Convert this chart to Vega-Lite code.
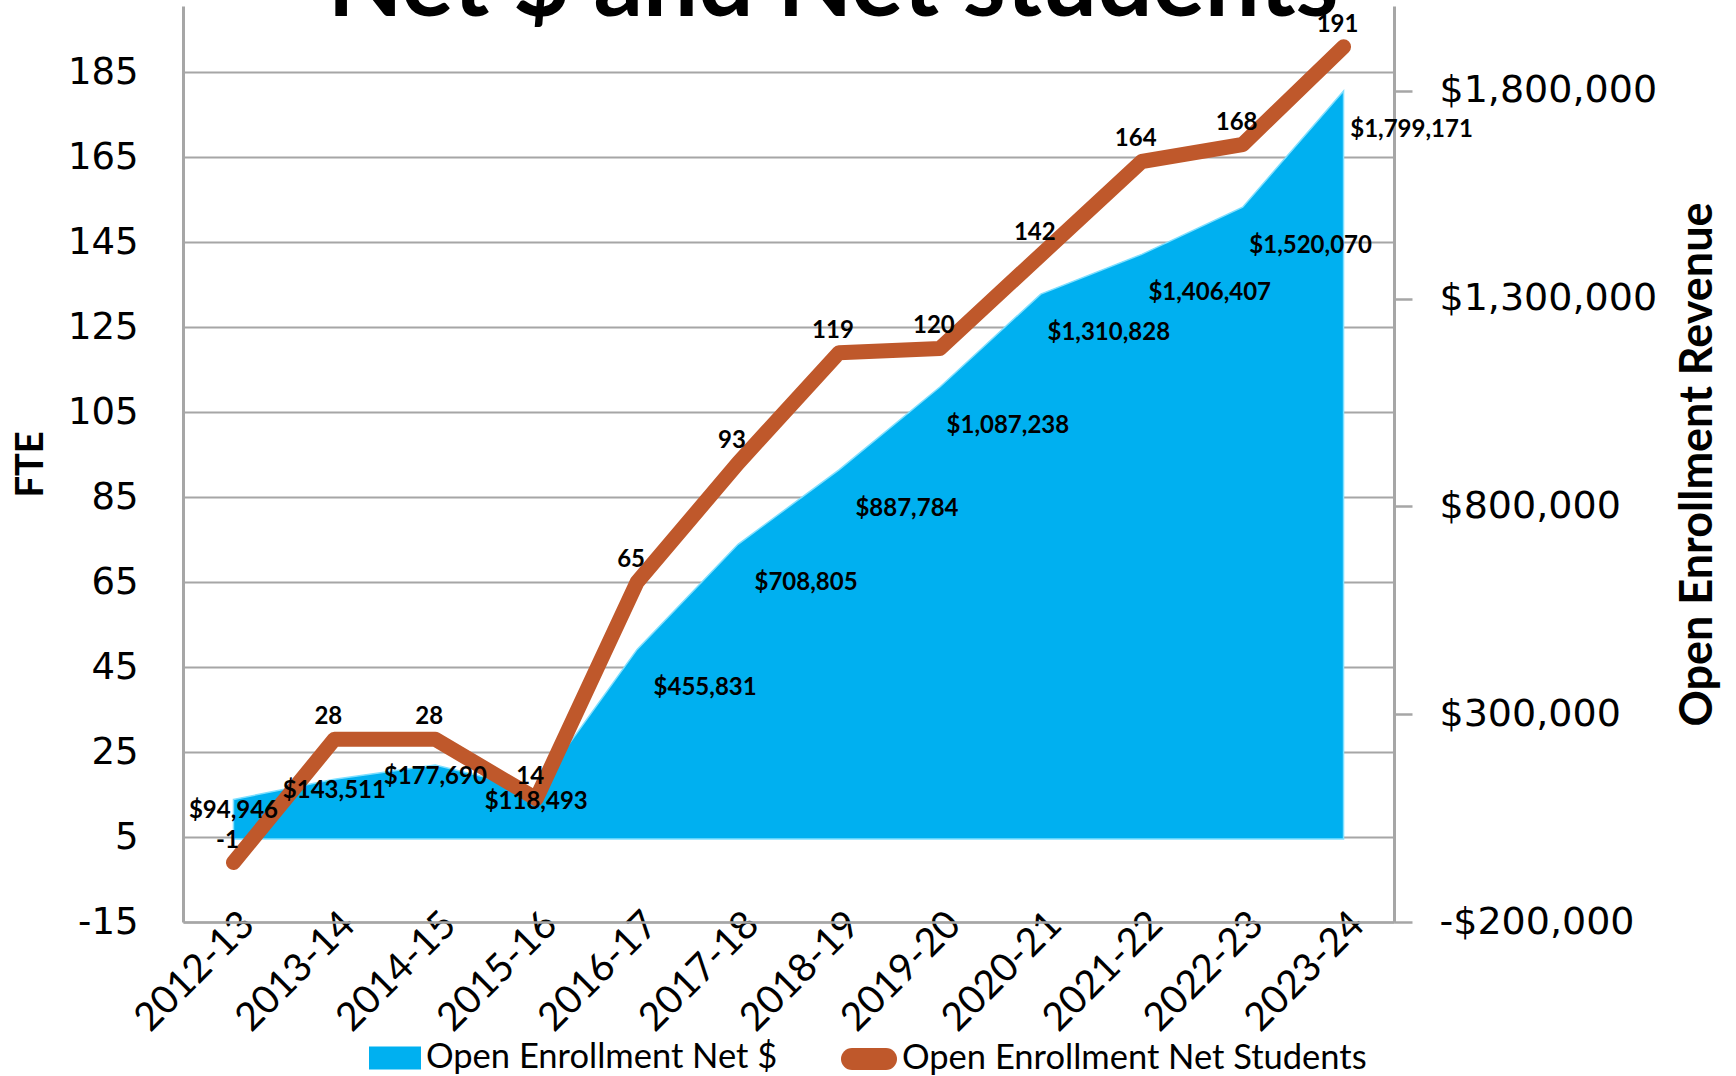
{
  "$schema": "https://vega.github.io/schema/vega-lite/v6.json",
  "width": 1211,
  "height": 916,
  "autosize": {"type": "none"},
  "padding": {"left": 183, "top": 6, "right": 342, "bottom": 154},
  "background": "white",
  "title": {"text": "Net $ and Net students", "font": "Lato", "fontSize": 97.7, "fontWeight": "bold", "color": "black", "anchor": "middle", "frame": "group", "baseline": "alphabetic", "offset": 0, "dy": 108, "dx": 44.5},
  "config": {"view": {"stroke": null}},
  "data": {"values": [
    {"year": "2012-13", "net_dollars": 94946, "students": -1},
    {"year": "2013-14", "net_dollars": 143511, "students": 28},
    {"year": "2014-15", "net_dollars": 177690, "students": 28},
    {"year": "2015-16", "net_dollars": 118493, "students": 14},
    {"year": "2016-17", "net_dollars": 455831, "students": 65},
    {"year": "2017-18", "net_dollars": 708805, "students": 93},
    {"year": "2018-19", "net_dollars": 887784, "students": 119},
    {"year": "2019-20", "net_dollars": 1087238, "students": 120},
    {"year": "2020-21", "net_dollars": 1310828, "students": 142},
    {"year": "2021-22", "net_dollars": 1406407, "students": 164},
    {"year": "2022-23", "net_dollars": 1520070, "students": 168},
    {"year": "2023-24", "net_dollars": 1799171, "students": 191}
  ]},
  "encoding": {
    "x": {"field": "year", "type": "ordinal", "sort": null, "scale": {"type": "point", "padding": 0.5},
      "axis": {"title": null, "labelAngle": -45, "labelAlign": "right", "labelBaseline": "middle", "labelFont": "Lato", "labelFontSize": 39, "labelColor": "black", "labelPadding": -4, "labelOffset": 14, "ticks": false, "domainColor": "#A6A6A6", "domainWidth": 2.5, "grid": false, "labelOverlap": false}}
  },
  "layer": [
    {
      "mark": {"type": "rule", "color": "#A6A6A6", "strokeWidth": 2},
      "encoding": {"y": {"datum": 0, "type": "quantitative", "scale": {"domain": [-15, 200.6], "nice": false, "zero": false}, "axis": null}}
    },
    {
      "mark": {"type": "area", "stroke": "#7FDFFF", "strokeWidth": 1.5},
      "encoding": {
        "y": {"field": "net_dollars", "type": "quantitative", "scale": {"domain": [-200000, 2004000], "nice": false, "zero": false},
          "axis": {"orient": "right", "title": "Open Enrollment Revenue", "titleFont": "Lato", "titleFontSize": 45, "titleFontWeight": "bold", "titleColor": "black", "titleAngle": 270, "titleX": 303, "titleY": 458, "titleAlign": "center", "titleBaseline": "middle",
            "values": [-200000, 300000, 800000, 1300000, 1800000], "format": "$,.0f", "labelExpr": "replace(datum.label, '−', '-')",
            "labelFont": "DejaVu Sans", "labelFontSize": 38, "labelColor": "black", "labelPadding": 27, "labelFlush": false, "labelOverlap": false, "labelLimit": 600,
            "tickSize": 18, "tickColor": "#A6A6A6", "tickWidth": 2.5, "domainColor": "#A6A6A6", "domainWidth": 3, "grid": false}},
        "y2": {"datum": 0},
        "fill": {"datum": "Open Enrollment Net $", "type": "nominal", "scale": {"range": ["#00B0F0"]},
          "legend": {"orient": "none", "legendX": 186, "legendY": 1026, "title": null, "padding": 0, "symbolType": "M-1,-0.44H1V0.44H-1Z", "symbolSize": 2704, "symbolStrokeWidth": 0, "labelFont": "Lato", "labelFontSize": 34.5, "labelColor": "black", "labelOffset": 5, "labelLimit": 800}}
      }
    },
    {
      "mark": {"type": "line", "strokeWidth": 15, "strokeCap": "round", "strokeJoin": "round"},
      "encoding": {
        "y": {"field": "students", "type": "quantitative", "scale": {"domain": [-15, 200.6], "nice": false, "zero": false},
          "axis": {"orient": "left", "title": "FTE", "titleFont": "Lato", "titleFontSize": 38, "titleFontWeight": "bold", "titleColor": "black", "titleAngle": 270, "titleX": -152, "titleY": 458, "titleAlign": "center", "titleBaseline": "middle",
            "values": [-15, 5, 25, 45, 65, 85, 105, 125, 145, 165, 185], "labelExpr": "replace(datum.label, '−', '-')",
            "labelFont": "DejaVu Sans", "labelFontSize": 37, "labelColor": "black", "labelPadding": 45, "labelFlush": false, "labelOverlap": false,
            "ticks": false, "domainColor": "#A6A6A6", "domainWidth": 3, "grid": true, "gridColor": "#A6A6A6", "gridWidth": 2}},
        "stroke": {"datum": "Open Enrollment Net Students", "type": "nominal", "scale": {"range": ["#BF582B"]},
          "legend": {"orient": "none", "legendX": 658, "legendY": 1025, "title": null, "padding": 0, "symbolType": "stroke", "symbolSize": 1156, "symbolStrokeWidth": 22, "labelFont": "Lato", "labelFontSize": 34.5, "labelColor": "black", "labelOffset": 5, "labelLimit": 800,
            "encode": {"symbols": {"update": {"strokeCap": {"value": "round"}}}}}}
      }
    },
    {
      "transform": [{"filter": "datum.net_dollars < 200000"}],
      "mark": {"type": "text", "font": "Lato", "fontWeight": "bold", "fontSize": 24, "color": "black", "dx": 0, "dy": 12},
      "encoding": {
        "y": {"field": "net_dollars", "type": "quantitative", "scale": {"domain": [-200000, 2004000], "nice": false, "zero": false}, "axis": null},
        "text": {"field": "net_dollars", "type": "quantitative", "format": "$,.0f"}
      }
    },
    {
      "transform": [{"filter": "datum.net_dollars >= 200000"}],
      "mark": {"type": "text", "font": "Lato", "fontWeight": "bold", "fontSize": 24, "color": "black", "dx": 68, "dy": 39},
      "encoding": {
        "y": {"field": "net_dollars", "type": "quantitative", "scale": {"domain": [-200000, 2004000], "nice": false, "zero": false}, "axis": null},
        "text": {"field": "net_dollars", "type": "quantitative", "format": "$,.0f"}
      }
    },
    {
      "mark": {"type": "text", "font": "Lato", "fontWeight": "bold", "fontSize": 24, "color": "black", "dx": -6, "dy": -22},
      "encoding": {
        "y": {"field": "students", "type": "quantitative", "scale": {"domain": [-15, 200.6], "nice": false, "zero": false}, "axis": null},
        "text": {"field": "students", "type": "nominal"}
      }
    }
  ],
  "resolve": {"scale": {"y": "independent"}}
}
